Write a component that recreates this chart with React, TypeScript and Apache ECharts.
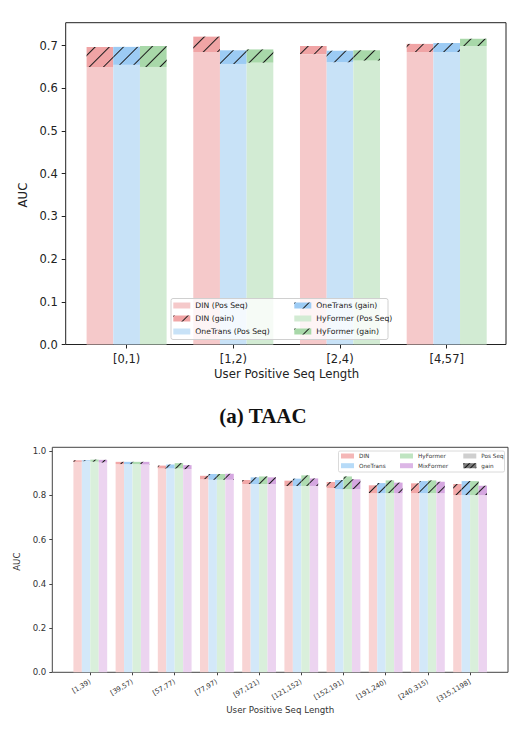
import React, { useEffect, useRef } from 'react';
import * as echarts from 'echarts';

// ---------- (a) TAAC ----------
const taacCats = ['[0,1)', '[1,2)', '[2,4)', '[4,57]'];
const taacDinPos = [0.650, 0.685, 0.680, 0.685];
const taacDinTotal = [0.697, 0.721, 0.699, 0.704];
const taacOneTransPos = [0.655, 0.657, 0.661, 0.685];
const taacOneTransTotal = [0.697, 0.689, 0.688, 0.706];
const taacHyFormerPos = [0.650, 0.660, 0.665, 0.699];
const taacHyFormerTotal = [0.699, 0.691, 0.689, 0.716];

// ---------- second chart ----------
const seqCats = ['[1,39)', '[39,57)', '[57,77)', '[77,97)', '[97,121)', '[121,152)', '[152,191)', '[191,240)', '[240,315)', '[315,1198]'];
const seqDinPos = [0.951, 0.941, 0.921, 0.873, 0.851, 0.842, 0.833, 0.810, 0.810, 0.801];
const seqDinTotal = [0.958, 0.951, 0.934, 0.888, 0.869, 0.866, 0.860, 0.845, 0.854, 0.851];
const seqOneTransPos = [0.954, 0.941, 0.921, 0.870, 0.851, 0.842, 0.828, 0.810, 0.810, 0.801];
const seqOneTransTotal = [0.958, 0.951, 0.939, 0.896, 0.881, 0.875, 0.869, 0.855, 0.864, 0.864];
const seqHyFormerPos = [0.952, 0.941, 0.921, 0.870, 0.851, 0.842, 0.828, 0.810, 0.810, 0.801];
const seqHyFormerTotal = [0.961, 0.951, 0.945, 0.896, 0.885, 0.890, 0.885, 0.867, 0.867, 0.864];
const seqMixFormerPos = [0.948, 0.939, 0.918, 0.870, 0.851, 0.842, 0.828, 0.810, 0.810, 0.801];
const seqMixFormerTotal = [0.960, 0.951, 0.936, 0.897, 0.881, 0.876, 0.872, 0.857, 0.861, 0.843];

const FONT = 'DejaVu Sans';

const diff = (t: number[], b: number[]) => t.map((v, i) => +(v - b[i]).toFixed(4));

function hatch(gap: number, color = '#1a1a1a') {
  return {
    symbol: 'rect',
    symbolSize: 1,
    dashArrayX: [1, 0],
    dashArrayY: [1, gap],
    rotation: -Math.PI / 4,
    color,
  };
}

// layout (pixels)
const T = { left: 65.7, right: 506, top: 22.7, bottom: 344.5, band: 106.7, nCat: 4, yMaxTick: 0.7 };
const B = { left: 52.3, right: 508, top: 447.3, bottom: 672.3, band: 42.2, nCat: 10, firstCenter: 90.3, yMaxTick: 1.0 };
const T_PER_UNIT = 427;
const B_PER_UNIT = 221.3;
const T_FIRST_CENTER = 126.6;

export default function App() {
  const ref = useRef<HTMLDivElement>(null);
  useEffect(() => {
    if (!ref.current) return;
    const chart = echarts.init(ref.current, undefined, { renderer: 'svg' });

    const tH = T.bottom - T.top;
    const bH = B.bottom - B.top;
    const tYMax = tH / T_PER_UNIT;
    const bYMax = bH / B_PER_UNIT;

    const grids = [
      // 0 top frame
      { left: T.left, top: T.top, width: T.right - T.left, height: tH, show: true, borderColor: '#222', borderWidth: 1, backgroundColor: 'transparent' },
      // 1 top y-axis ticks
      { left: T.left, top: T.bottom - T.yMaxTick * T_PER_UNIT, width: T.right - T.left, height: T.yMaxTick * T_PER_UNIT },
      // 2 top bars
      { left: T_FIRST_CENTER - T.band / 2, top: T.top, width: T.band * T.nCat, height: tH },
      // 3 bottom frame
      { left: B.left, top: B.top, width: B.right - B.left, height: bH, show: true, borderColor: '#444', borderWidth: 1, backgroundColor: 'transparent' },
      // 4 bottom y-axis ticks
      { left: B.left, top: B.bottom - B.yMaxTick * B_PER_UNIT, width: B.right - B.left, height: B.yMaxTick * B_PER_UNIT },
      // 5 bottom bars
      { left: B.firstCenter - B.band / 2, top: B.top, width: B.band * B.nCat, height: bH },
    ];

    const hidden = (gridIndex: number) => ({ type: 'value', gridIndex, show: false, min: 0, max: 1 });

    const xAxis: any[] = [
      hidden(0),
      hidden(1),
      {
        type: 'category', gridIndex: 2, data: taacCats,
        axisLine: { show: false },
        axisTick: { show: true, alignWithLabel: true, length: 4, lineStyle: { color: '#222' } },
        axisLabel: { fontSize: 11.5, color: '#222', margin: 8, fontFamily: FONT },
        name: 'User Positive Seq Length', nameLocation: 'middle', nameGap: 23,
        nameTextStyle: { fontSize: 11.7, color: '#222', fontFamily: FONT },
      },
      hidden(3),
      hidden(4),
      {
        type: 'category', gridIndex: 5, data: seqCats,
        axisLine: { show: false },
        axisTick: { show: true, alignWithLabel: true, length: 3, lineStyle: { color: '#444' } },
        axisLabel: { fontSize: 6.8, color: '#333', margin: 9, rotate: 30, interval: 0, fontFamily: FONT },
        name: 'User Positive Seq Length', nameLocation: 'middle', nameGap: 33,
        nameTextStyle: { fontSize: 8.7, color: '#333', fontFamily: FONT },
      },
    ];

    const yAxis: any[] = [
      hidden(0),
      {
        type: 'value', gridIndex: 1, min: 0, max: T.yMaxTick, interval: 0.1,
        axisLine: { show: false }, splitLine: { show: false },
        axisTick: { show: true, length: 4, lineStyle: { color: '#222' } },
        axisLabel: { fontSize: 11.5, color: '#222', margin: 8, formatter: (v: number) => v.toFixed(1), fontFamily: FONT },
        name: 'AUC', nameLocation: 'middle', nameGap: 29,
        nameTextStyle: { fontSize: 11.7, color: '#222', fontFamily: FONT },
      },
      { type: 'value', gridIndex: 2, min: 0, max: tYMax, show: false },
      hidden(3),
      {
        type: 'value', gridIndex: 4, min: 0, max: B.yMaxTick, interval: 0.2,
        axisLine: { show: false }, splitLine: { show: false },
        axisTick: { show: true, length: 3, lineStyle: { color: '#444' } },
        axisLabel: { fontSize: 8.6, color: '#333', margin: 6, formatter: (v: number) => v.toFixed(1), fontFamily: FONT },
        name: 'AUC', nameLocation: 'middle', nameGap: 22,
        nameTextStyle: { fontSize: 8.7, color: '#333', fontFamily: FONT },
      },
      { type: 'value', gridIndex: 5, min: 0, max: bYMax, show: false },
    ];

    const topModels = [
      { name: 'DIN', pos: taacDinPos, total: taacDinTotal, c0: '#f5c9ca', c1: '#f0a4a5' },
      { name: 'OneTrans', pos: taacOneTransPos, total: taacOneTransTotal, c0: '#c8e2f7', c1: '#9ccbf4' },
      { name: 'HyFormer', pos: taacHyFormerPos, total: taacHyFormerTotal, c0: '#d2ebd3', c1: '#a8d8a9' },
    ];
    const botModels = [
      { name: 'DIN', pos: seqDinPos, total: seqDinTotal, c0: '#f8d4d4', c1: '#f2a8a8', lg: '#f4b7b7' },
      { name: 'OneTrans', pos: seqOneTransPos, total: seqOneTransTotal, c0: '#d3e8f9', c1: '#a2cef5', lg: '#b7dbf8' },
      { name: 'HyFormer', pos: seqHyFormerPos, total: seqHyFormerTotal, c0: '#d9efdb', c1: '#afdcb1', lg: '#bfe4c1' },
      { name: 'MixFormer', pos: seqMixFormerPos, total: seqMixFormerTotal, c0: '#ecd4f0', c1: '#d5a7e0', lg: '#dcb6e6' },
    ];

    const series: any[] = [];
    topModels.forEach((m) => {
      series.push({
        type: 'bar', name: `${m.name} (Pos Seq)`, xAxisIndex: 2, yAxisIndex: 2, stack: 't' + m.name,
        data: m.pos, barWidth: '25%', barGap: '0%', itemStyle: { color: m.c0 },
      });
      series.push({
        type: 'bar', name: `${m.name} (gain)`, xAxisIndex: 2, yAxisIndex: 2, stack: 't' + m.name,
        data: diff(m.total, m.pos), barWidth: '25%', barGap: '0%',
        itemStyle: { color: m.c1, decal: hatch(9) },
      });
    });
    botModels.forEach((m) => {
      series.push({
        type: 'bar', name: m.name, xAxisIndex: 5, yAxisIndex: 5, stack: 'b' + m.name,
        data: m.pos, barWidth: '20%', barGap: '0%', itemStyle: { color: m.c0 },
      });
      series.push({
        type: 'bar', name: `${m.name} gain`, xAxisIndex: 5, yAxisIndex: 5, stack: 'b' + m.name,
        data: diff(m.total, m.pos), barWidth: '20%', barGap: '0%',
        itemStyle: { color: m.c1, decal: hatch(6) },
      });
    });
    // legend-only entries for the second chart
    series.push({ type: 'bar', name: 'Pos Seq', xAxisIndex: 3, yAxisIndex: 3, data: [], itemStyle: { color: '#cfcfcf' } });
    series.push({ type: 'bar', name: 'gain', xAxisIndex: 3, yAxisIndex: 3, data: [], itemStyle: { color: '#7a7a7a', decal: hatch(3, '#111') } });

    const topLegend = (left: number, names: string[]) => ({
      orient: 'vertical', left, top: 300.5, padding: 0, itemGap: 3, itemWidth: 17, itemHeight: 6,
      icon: 'rect', selectedMode: false, z: 10, data: names,
      textStyle: { fontSize: 7.7, lineHeight: 10, color: '#222', fontFamily: FONT },
    });
    const botLegend = (left: number, names: any[]) => ({
      orient: 'vertical', left, top: 452.5, padding: 0, itemGap: 2.7, itemWidth: 13, itemHeight: 5,
      icon: 'rect', selectedMode: false, z: 10, data: names,
      textStyle: { fontSize: 5.7, lineHeight: 7, color: '#333', fontFamily: FONT },
    });
    const lg = (i: number) => ({ name: botModels[i].name, itemStyle: { color: botModels[i].lg } });

    const option: any = {
      animation: false,
      textStyle: { fontFamily: FONT },
      grid: grids,
      xAxis,
      yAxis,
      series,
      legend: [
        topLegend(173.3, ['DIN (Pos Seq)', 'DIN (gain)', 'OneTrans (Pos Seq)']),
        topLegend(294.3, ['OneTrans (gain)', 'HyFormer (Pos Seq)', 'HyFormer (gain)']),
        botLegend(341, [lg(0), lg(1)]),
        botLegend(400, [lg(2), lg(3)]),
        botLegend(463.3, ['Pos Seq', 'gain']),
      ],
      graphic: [
        {
          type: 'rect', z: 5,
          shape: { x: 171, y: 298.5, width: 217, height: 41, r: 2 },
          style: { fill: 'rgba(255,255,255,0.8)', stroke: '#d0d0d0', lineWidth: 1 },
        },
        {
          type: 'rect', z: 5,
          shape: { x: 338.5, y: 451, width: 166, height: 21, r: 1.5 },
          style: { fill: 'rgba(255,255,255,0.8)', stroke: '#d0d0d0', lineWidth: 0.8 },
        },
        {
          type: 'text', z: 5, x: 263, y: 416,
          style: {
            text: '(a) TAAC', font: 'bold 21px "Liberation Serif"', fill: '#111',
            textAlign: 'center', verticalAlign: 'middle',
          },
        },
      ],
    };
    chart.setOption(option);
    return () => chart.dispose();
  }, []);

  return (
    <div
      ref={ref}
      style={{ position: 'absolute', left: 0, top: 0, width: 530, height: 734, background: '#fff' }}
    />
  );
}
